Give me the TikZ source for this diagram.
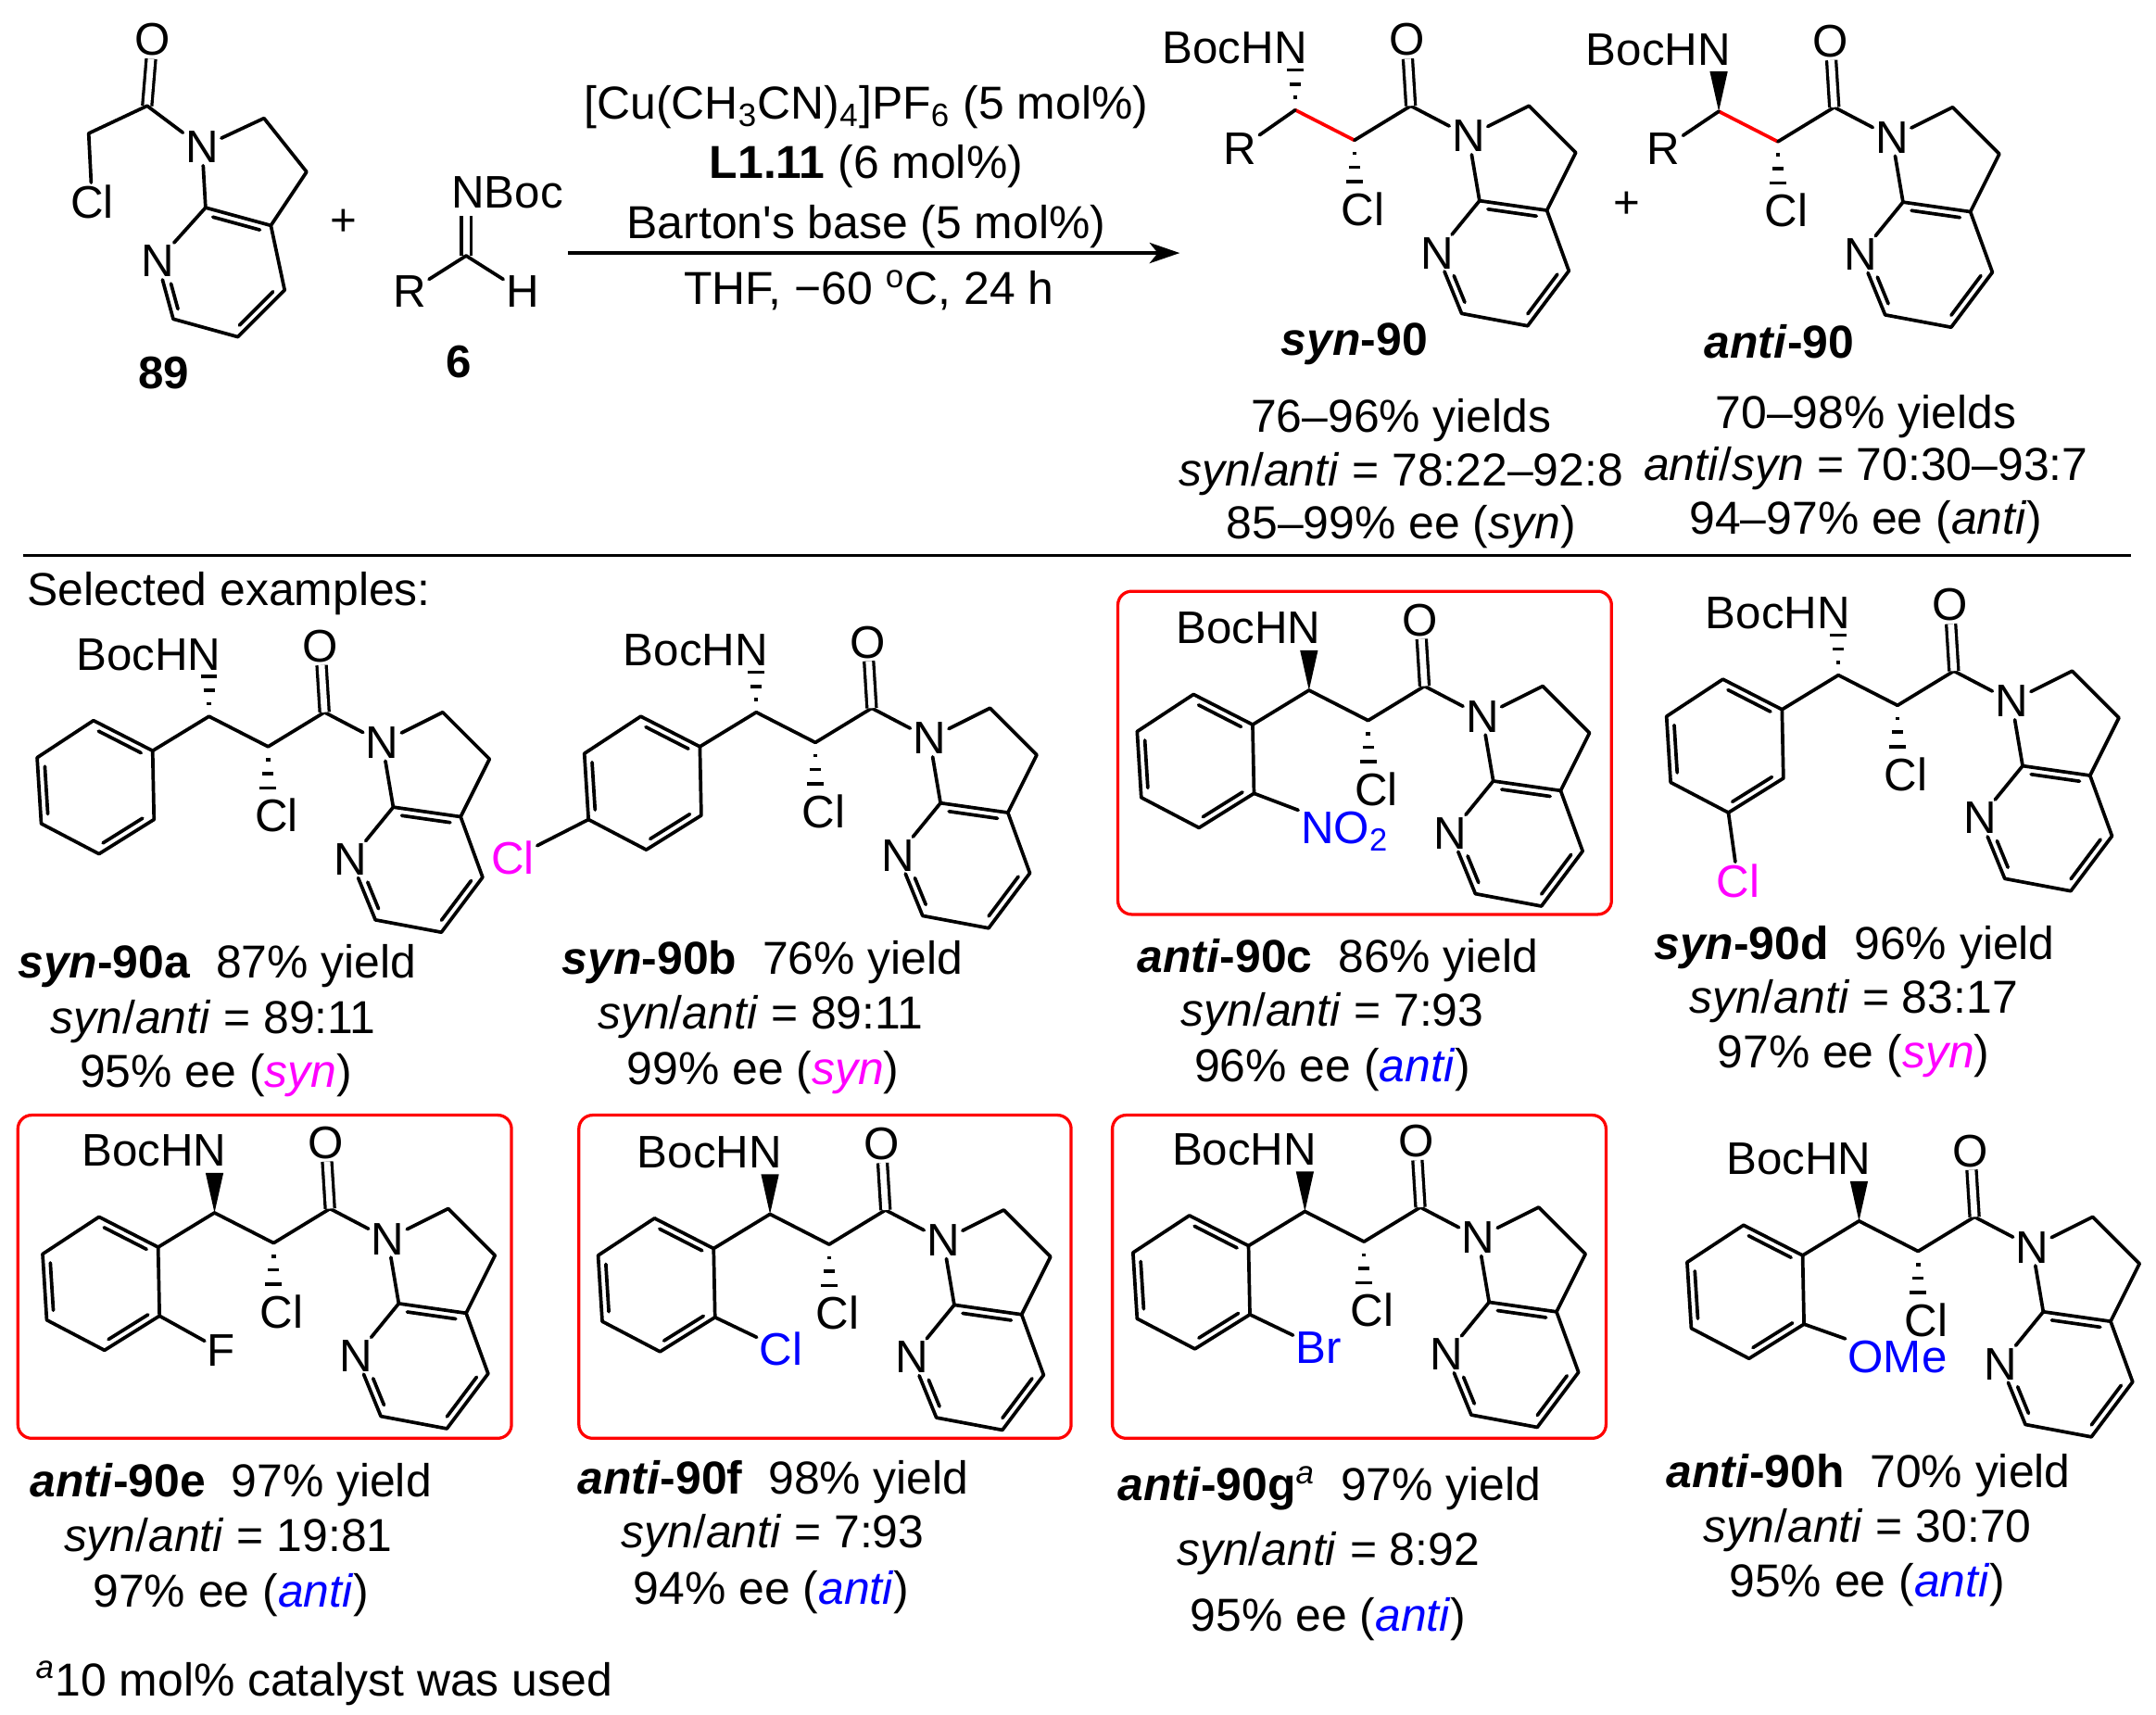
\documentclass[tikz,border=0pt]{standalone}
\usepackage{fontspec}
\setmainfont{Liberation Sans}
\usetikzlibrary{calc,arrows.meta}
\definecolor{chemred}{RGB}{255,0,0}
\definecolor{chemblue}{RGB}{0,0,255}
\definecolor{chemmag}{RGB}{255,0,255}
\tikzset{
  bond/.style={line width=1.25pt,line cap=round,line join=round},
  dbond/.style={line width=1.1pt,double,double distance=2.3pt},
  atom/.style={inner sep=1pt,outer sep=0pt,font=\fontsize{16.6}{18}\selectfont},
  txt/.style={inner sep=0pt,outer sep=0pt,yshift=-1.5pt,text height=12pt,text depth=3.5pt,font=\fontsize{16.8}{18}\selectfont},
  redbox/.style={draw=chemred,line width=1.1pt,rounded corners=5pt},
  rule/.style={line width=1pt}
}
\newcommand\sthash[2]{\foreach \t/\w in {0.32/1.5,0.65/4,1/6}{\draw[line width=1.2pt] ($(#1)!\t!(#2)+(-\w,0)$) -- ($(#1)!\t!(#2)+(\w,0)$);}}
\newcommand\stwedge[2]{\fill (#1) -- ($(#2)+(-6.5,0)$) -- ($(#2)+(6.5,0)$) -- cycle;}
\newcommand\inb[4]{\draw[bond] ($(#1)!#3!(#2)!2.6pt!90:(#2)$) -- ($(#1)!#4!(#2)!2.6pt!90:(#2)$);}
% prefix, x, y, stereo macro, central bond colour
\newcommand\amide[5]{\begin{scope}[shift={(#2,#3)},name prefix=#1-]
  \coordinate (c1) at (0,0); \coordinate (c2) at (43,22); \coordinate (co) at (84,-3);
  \coordinate (nh) at (0,-29); \coordinate (clb) at (43,52);
  \coordinate (ca) at (170,-3); \coordinate (cb) at (204,31); \coordinate (c3a) at (183,73);
  \coordinate (c7a) at (134,66); \coordinate (c6) at (121,148); \coordinate (c5) at (169,157); \coordinate (c4) at (199,117);
  \node[atom] (boc) at (-44,-45) {BocHN};
  \node[atom] (O) at (81,-51) {O};
  \node[atom] (N) at (126,19) {N};
  \node[atom] (Np) at (103,104) {N};
  \node[atom] (Cl) at (49,72) {Cl};
  #4{c1}{nh}
  \sthash{c2}{clb}
  \draw[bond,#5] (c1) -- (c2);
  \draw[bond] (c2) -- (co) -- (N);
  \draw[dbond] (co) -- (O);
  \draw[bond] (N) -- (ca) -- (cb) -- (c3a) -- (c4) -- (c5) -- (c6) -- (Np);
  \draw[bond] (N) -- (c7a) -- (Np);
  \draw[bond] (c7a) -- (c3a);
  \inb{c3a}{c7a}{0.14}{0.86}
  \inb{c5}{c4}{0.14}{0.86}
  \inb{Np}{c6}{0.42}{0.86}
\end{scope}}
\newcommand\benz[1]{\begin{scope}[name prefix=#1-,shift={(#1-c1)}]
  \coordinate (i) at (-41,25); \coordinate (o1) at (-84,3); \coordinate (m1) at (-125,30);
  \coordinate (p) at (-122,78); \coordinate (m2) at (-80,100); \coordinate (o2) at (-40,75);
  \draw[bond] (c1) -- (i);
  \draw[bond] (i) -- (o1) -- (m1) -- (p) -- (m2) -- (o2) -- cycle;
  \inb{i}{o1}{0.14}{0.86}
  \inb{m1}{p}{0.14}{0.86}
  \inb{m2}{o2}{0.14}{0.86}
\end{scope}}
\newcommand\capt[4]{\node[txt] (#1) at (#2,#3) {#4};}
\newcommand\captL[4]{\node[txt,anchor=west] (#1) at (#2,#3) {#4};}
\newcommand\sa{\textit{syn}/\textit{anti}}
\newcommand\bsyn{\textbf{\textit{syn}}}
\newcommand\bant{\textbf{\textit{anti}}}
\newcommand\msyn{\textcolor{chemmag}{\textit{syn}}}
\newcommand\mant{\textcolor{chemblue}{\textit{anti}}}
\begin{document}
\begin{tikzpicture}[x=0.5pt,y=-0.5pt]
\useasboundingbox (0,0) rectangle (1568,1247);
% --- 89
\coordinate (r-co) at (107,77); \coordinate (r-ch) at (64.5,97);
\coordinate (r-ca) at (192,86); \coordinate (r-cb) at (223,125); \coordinate (r-c3a) at (197,164);
\coordinate (r-c7a) at (149.5,151); \coordinate (r-c6) at (126,232); \coordinate (r-c5) at (173,245); \coordinate (r-c4) at (207,211);
\node[atom] (r-O) at (111,29) {O};
\node[atom] (r-Cl) at (67,147) {Cl};
\node[atom] (r-N) at (147,107) {N};
\node[atom] (r-Np) at (114.5,190) {N};
\draw[dbond] (r-co) -- (r-O);
\draw[bond] (r-Cl) -- (r-ch) -- (r-co) -- (r-N) -- (r-ca) -- (r-cb) -- (r-c3a) -- (r-c4) -- (r-c5) -- (r-c6) -- (r-Np);
\draw[bond] (r-N) -- (r-c7a) -- (r-Np);
\draw[bond] (r-c7a) -- (r-c3a);
\inb{r-c3a}{r-c7a}{0.14}{0.86}
\inb{r-c5}{r-c4}{0.14}{0.86}
\inb{r-Np}{r-c6}{0.42}{0.86}
\node[atom,font=\fontsize{16.6}{18}\selectfont\bfseries] (l89) at (119,271) {89};
\node[atom] (plus1) at (250,162) {+};
% --- 6
\coordinate (i-c) at (339,186);
\node[atom] (i-N) at (369,140) {NBoc};
\coordinate (i-Nb) at (339,157);
\node[atom] (i-R) at (298,212) {R};
\node[atom] (i-H) at (380,212) {H};
\draw[dbond] (i-c) -- (i-Nb);
\draw[bond] (i-R) -- (i-c) -- (i-H);
\node[atom,font=\fontsize{16.6}{18}\selectfont\bfseries] (l6) at (334,263) {6};
% --- arrow
\coordinate (arrS) at (413,184); \coordinate (arrE) at (858,184);
\draw[line width=1.1pt,-{Stealth[length=11pt,width=7.5pt,inset=3pt]}] (arrS) -- (arrE);
\capt{cond1}{630}{75}{[Cu(CH\textsubscript{3}CN)\textsubscript{4}]PF\textsubscript{6} (5 mol\%)}
\capt{cond2}{630}{118}{\textbf{L1.11} (6 mol\%)}
\capt{cond3}{630}{162}{Barton\textquotesingle s base (5 mol\%)}
\capt{cond4}{632}{210}{THF, −60 \textsuperscript{o}C, 24 h}
% --- products
\amide{syn}{942}{80}{\sthash}{chemred}
\amide{ant}{1250}{81}{\stwedge}{chemred}
\node[atom] (syn-R) at (902,108) {R};
\node[atom] (ant-R) at (1210,108) {R};
\draw[bond] (syn-R) -- (syn-c1);
\draw[bond] (ant-R) -- (ant-c1);
\node[atom] (plus2) at (1183,149) {+};
\capt{synl}{985}{247}{\bsyn\textbf{-90}}
\capt{antl}{1294}{249}{\bant\textbf{-90}}
\capt{s1}{1019}{303}{76–96\% yields}
\capt{s2}{1019}{342}{\sa{} = 78:22–92:8}
\capt{s3}{1019}{380}{85–99\% ee (\textit{syn})}
\capt{t1}{1357}{300}{70–98\% yields}
\capt{t2}{1357}{338}{\textit{anti}/\textit{syn} = 70:30–93:7}
\capt{t3}{1357}{377}{94–97\% ee (\textit{anti})}
% --- rule
\coordinate (ruleA) at (17,404); \coordinate (ruleB) at (1550,404);
\draw[rule] (ruleA) -- (ruleB);
\captL{sel}{20}{429}{Selected examples:}
% --- boxes
\draw[redbox] (813,430) rectangle (1172,665);
\draw[redbox] (13,811) rectangle (372,1046);
\draw[redbox] (421,811) rectangle (779,1046);
\draw[redbox] (809,811) rectangle (1168,1046);
% --- examples
\amide{a}{152}{521}{\sthash}{black} \benz{a}
\amide{b}{550}{518}{\sthash}{black} \benz{b}
\amide{c}{952}{502}{\stwedge}{black} \benz{c}
\amide{d}{1337}{491}{\sthash}{black} \benz{d}
\amide{e}{156}{882}{\stwedge}{black} \benz{e}
\amide{f}{560}{883}{\stwedge}{black} \benz{f}
\amide{g}{949}{881}{\stwedge}{black} \benz{g}
\amide{h}{1352}{888}{\stwedge}{black} \benz{h}
\node[atom,text=chemmag] (bX) at (373,624) {Cl}; \draw[bond] (b-p) -- (bX);
\node[atom,text=chemmag] (dX) at (1264,641) {Cl}; \draw[bond] (d-m2) -- (dX);
\node[atom,text=chemblue,text depth=0pt] (cX) at (978,602) {NO\textsubscript{2}}; \draw[bond] (c-o2) -- (cX);
\node[atom] (eX) at (161,982) {F}; \draw[bond] (e-o2) -- (eX);
\node[atom,text=chemblue] (fX) at (568,981) {Cl}; \draw[bond] (f-o2) -- (fX);
\node[atom,text=chemblue] (gX) at (959,980) {Br}; \draw[bond] (g-o2) -- (gX);
\node[atom,text=chemblue] (hX) at (1380,987) {OMe}; \draw[bond] (h-o2) -- (hX);
% --- captions
\captL{a1}{13}{700}{\bsyn\textbf{-90a}\ \ 87\% yield}
\capt{a2}{155}{740}{\sa{} = 89:11}
\capt{a3}{157}{779}{95\% ee (\msyn)}
\captL{b1}{409}{697}{\bsyn\textbf{-90b}\ \ 76\% yield}
\capt{b2}{553}{737}{\sa{} = 89:11}
\capt{b3}{555}{777}{99\% ee (\msyn)}
\captL{c1}{827}{696}{\bant\textbf{-90c}\ \ 86\% yield}
\capt{c2}{969}{735}{\sa{} = 7:93}
\capt{c3}{969}{775}{96\% ee (\mant)}
\captL{d1}{1203}{686}{\bsyn\textbf{-90d}\ \ 96\% yield}
\capt{d2}{1348}{725}{\sa{} = 83:17}
\capt{d3}{1348}{765}{97\% ee (\msyn)}
\captL{e1}{22}{1077}{\bant\textbf{-90e}\ \ 97\% yield}
\capt{e2}{166}{1117}{\sa{} = 19:81}
\capt{e3}{168}{1157}{97\% ee (\mant)}
\captL{f1}{420}{1075}{\bant\textbf{-90f}\ \ 98\% yield}
\capt{f2}{562}{1114}{\sa{} = 7:93}
\capt{f3}{561}{1155}{94\% ee (\mant)}
\captL{g1}{813}{1080}{\bant\textbf{-90g}\textsuperscript{\textit{a}}\ \ 97\% yield}
\capt{g2}{966}{1127}{\sa{} = 8:92}
\capt{g3}{966}{1175}{95\% ee (\mant)}
\captL{h1}{1212}{1070}{\bant\textbf{-90h}\ \ 70\% yield}
\capt{h2}{1358}{1110}{\sa{} = 30:70}
\capt{h3}{1358}{1150}{95\% ee (\mant)}
\captL{foot}{26}{1222}{\textsuperscript{\textit{a}}10 mol\% catalyst was used}
\end{tikzpicture}
\end{document}
